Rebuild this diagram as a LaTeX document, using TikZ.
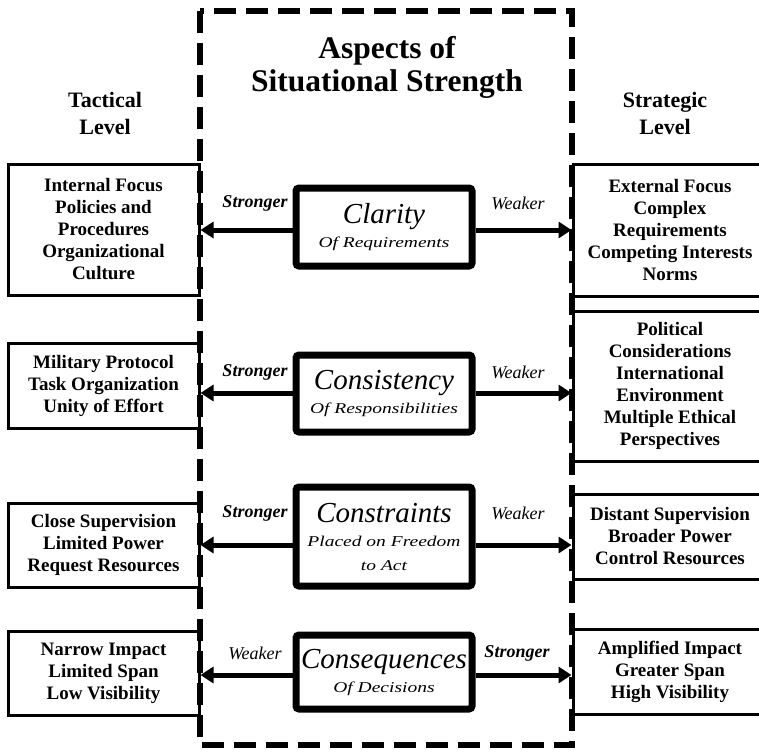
\documentclass[tikz,border=0pt]{standalone}
\usepackage{fontspec}
\setmainfont{Liberation Serif}
\newfontfamily\subfam[FakeStretch=1.3]{Liberation Serif}
\usetikzlibrary{arrows.meta}
\newcommand{\aspbig}[1]{{\fontsize{29}{24}\selectfont #1}}
\begin{document}
\begin{tikzpicture}[x=1pt,y=-1pt,
  sidebox/.style={draw, line width=3pt, align=center, inner sep=0pt,
    font=\bfseries\fontsize{19}{22}\selectfont},
  aspectbox/.style={draw, line width=7pt, rounded corners=3pt, align=center,
    inner sep=0pt, minimum width=176pt, fill=white,
    font=\itshape\fontsize{15}{24}\selectfont},
  arr/.style={line width=5pt, -{Triangle[length=13pt,width=16pt]}},
  strong/.style={font=\bfseries\itshape\fontsize{18}{18}\selectfont},
  weak/.style={font=\itshape\fontsize{18}{18}\selectfont},
  heading/.style={font=\bfseries\fontsize{22}{27}\selectfont, align=center}]
\clip (0,0) rectangle (759,754);
\fill[white] (0,0) rectangle (759,754);

% title and headings
\node[font=\bfseries\fontsize{31.5}{33}\selectfont, align=center] (title) at (387,67)
  {Aspects of\\Situational Strength};
\node[heading] (tact) at (105,113) {Tactical\\Level};
\node[heading] (strat) at (665,113) {Strategic\\Level};

% left boxes
\node[sidebox, minimum width=191pt, minimum height=131pt] (l1) at (103.5,229.5)
  {Internal Focus\\Policies and\\Procedures\\Organizational\\Culture};
\node[sidebox, minimum width=191pt, minimum height=85pt] (l2) at (103.5,385.5)
  {Military Protocol\\Task Organization\\Unity of Effort};
\node[sidebox, minimum width=191pt, minimum height=84pt] (l3) at (103.5,545)
  {Close Supervision\\Limited Power\\Request Resources};
\node[sidebox, minimum width=191pt, minimum height=84pt] (l4) at (103.5,673)
  {Narrow Impact\\Limited Span\\Low Visibility};

% right boxes
\node[sidebox, minimum width=194pt, minimum height=132pt] (r1) at (670,230)
  {External Focus\\Complex\\Requirements\\Competing Interests\\Norms};
\node[sidebox, minimum width=194pt, minimum height=150pt] (r2) at (670,386)
  {Political\\Considerations\\International\\Environment\\Multiple Ethical\\Perspectives};
\node[sidebox, minimum width=194pt, minimum height=85pt] (r3) at (670,536.5)
  {Distant Supervision\\Broader Power\\Control Resources};
\node[sidebox, minimum width=194pt, minimum height=85pt] (r4) at (670,671.5)
  {Amplified Impact\\Greater Span\\High Visibility};

% dashed frame
\draw[line width=6pt, dash pattern=on 22pt off 10pt] (200,11) rectangle (572,745);

% aspect boxes
\node[aspectbox, minimum height=78pt] (c1) at (384,227)
  {\aspbig{Clarity}\\\subfam Of Requirements};
\node[aspectbox, minimum height=77pt] (c2) at (384,393.5)
  {\aspbig{Consistency}\\\subfam Of Responsibilities};
\node[aspectbox, minimum height=99pt] (c3) at (384,536.5)
  {\aspbig{Constraints}\\\subfam Placed on Freedom\\\subfam to Act};
\node[aspectbox, minimum height=74pt] (c4) at (384,672)
  {\aspbig{Consequences}\\\subfam Of Decisions};

% arrow levels
\coordinate (a1) at (0,230);
\coordinate (a2) at (0,393);
\coordinate (a3) at (0,545);
\coordinate (a4) at (0,675);

\draw[arr] (c1.west |- a1) -- (l1.east |- a1);
\draw[arr] (c1.east |- a1) -- (r1.west |- a1);
\draw[arr] (c2.west |- a2) -- (l2.east |- a2);
\draw[arr] (c2.east |- a2) -- (r2.west |- a2);
\draw[arr] (c3.west |- a3) -- (l3.east |- a3);
\draw[arr] (c3.east |- a3) -- (r3.west |- a3);
\draw[arr] (c4.west |- a4) -- (l4.east |- a4);
\draw[arr] (c4.east |- a4) -- (r4.west |- a4);

% labels
\node[strong] (s1) at (255,203) {Stronger};
\node[weak] (w1) at (518,203) {Weaker};
\node[strong] (s2) at (255,372) {Stronger};
\node[weak] (w2) at (518,372) {Weaker};
\node[strong] (s3) at (255,513) {Stronger};
\node[weak] (w3) at (518,513) {Weaker};
\node[weak] (w4) at (255,653) {Weaker};
\node[strong] (s4) at (517,653) {Stronger};
\end{tikzpicture}
\end{document}
